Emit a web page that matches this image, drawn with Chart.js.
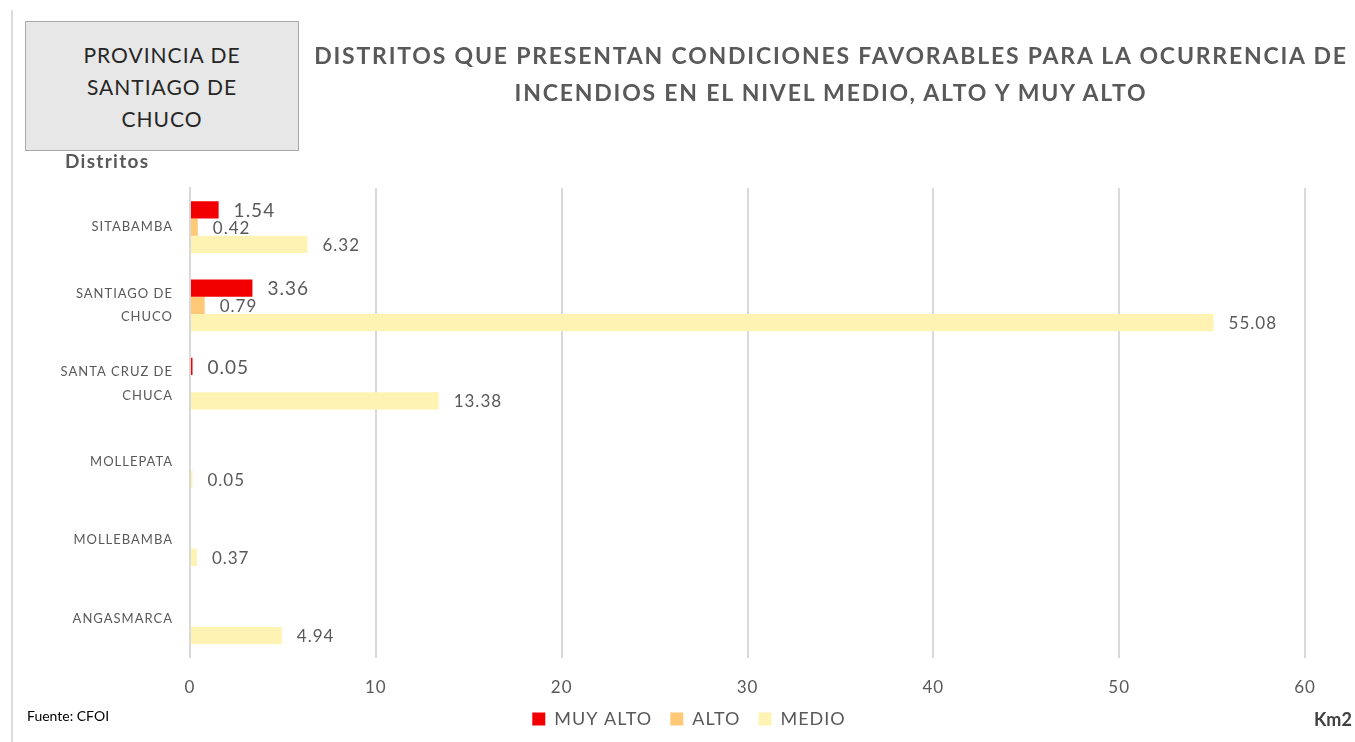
<!DOCTYPE html>
<html>
<head>
<meta charset="utf-8">
<script src="https://cdn.jsdelivr.net/npm/chart.js@4/dist/chart.umd.min.js"></script>
<style>
  html, body { margin: 0; padding: 0; background: #fff; }
  body { width: 1355px; height: 742px; position: relative; overflow: hidden; font-family: Lato, "Open Sans", sans-serif; }
  #wrap { position: absolute; left: 0; top: 0; width: 1355px; height: 742px; }
  .edge { position: absolute; left: 11px; top: 10px; width: 2px; height: 732px; background: #dcdcdc; }
  .box {
    position: absolute; left: 25px; top: 21px; width: 274px; height: 130px;
    background: #e7e7e7; border: 1px solid #a9a9a9; box-sizing: border-box;
    color: #262626; font-size: 21px; letter-spacing: 1px; line-height: 32px; text-align: center;
    padding-top: 17px;
  }
  .title {
    position: absolute; left: 303px; top: 37px; width: 1056px;
    color: #595959; font-weight: bold; font-size: 23px; letter-spacing: 1.8px; line-height: 37px; text-align: center;
  }
  .ylab { position: absolute; left: 65px; top: 149px; color: #595959; font-weight: bold; font-size: 19px; letter-spacing: 1.3px; }
  .src { position: absolute; left: 27px; top: 707px; color: #000; font-size: 14px; }
  .km { position: absolute; left: 1314px; top: 708px; color: #404040; font-weight: bold; font-size: 18px; }
</style>
</head>
<body>
<div class="edge"></div>
<div id="wrap"><canvas id="chart"></canvas></div>
<div class="box">PROVINCIA DE<br>SANTIAGO DE<br>CHUCO</div>
<div class="title">DISTRITOS QUE PRESENTAN CONDICIONES FAVORABLES PARA LA OCURRENCIA DE<br>INCENDIOS EN EL NIVEL MEDIO, ALTO Y MUY ALTO</div>
<div class="ylab">Distritos</div>
<div class="src">Fuente: CFOI</div>
<div class="km">Km2</div>
<script>
// datos (km2) por distrito
const distritos = [["SITABAMBA"], ["SANTIAGO DE", "CHUCO"], ["SANTA CRUZ DE", "CHUCA"], ["MOLLEPATA"], ["MOLLEBAMBA"], ["ANGASMARCA"]];
const muyAlto = [1.54, 3.36, 0.05, null, null, null];
const alto    = [0.42, 0.79, null, null, null, null];
const medio   = [6.32, 55.08, 13.38, 0.05, 0.37, 4.94];
const xTicks  = [0, 10, 20, 30, 40, 50, 60];

// espaciado de letras para ejes y leyenda (texto tipo Calibri mas ancho)
const spacing = {
  id: "spacing",
  // el eje x se acorto en afterFit; se amplia su caja para que no recorte los numeros
  afterLayout(chart){ chart.scales.x.bottom += 26; },
  beforeDraw(chart){ chart.ctx.letterSpacing = "1px"; },
  beforeDatasetsDraw(chart){ chart.ctx.letterSpacing = "0px"; }
};

// etiquetas de valor al final de cada barra
const valueLabels = {
  id: "valueLabels",
  afterDatasetsDraw(chart){
    const ctx = chart.ctx;
    ctx.save();
    ctx.letterSpacing = "1px";
    ctx.textBaseline = "middle";
    ctx.textAlign = "left";
    ctx.fillStyle = "#595959";
    chart.data.datasets.forEach((ds, i)=>{
      const meta = chart.getDatasetMeta(i);
      ctx.font = (i === 0 ? "19px" : "17px") + " Lato, 'Open Sans', sans-serif";
      meta.data.forEach((bar, j)=>{
        const v = ds.data[j];
        if(v == null) return;
        ctx.fillText(v.toFixed(2), bar.x + 15, bar.y + 1);
      });
    });
    ctx.restore();
  }
};

new Chart(document.getElementById("chart"), {
  type: "bar",
  data: {
    labels: distritos,
    datasets: [
      { label: "MUY ALTO", data: muyAlto, backgroundColor: "#f20000" },
      { label: "ALTO",     data: alto,    backgroundColor: "#ffc977" },
      { label: "MEDIO",    data: medio,   backgroundColor: "#fff3b3" }
    ]
  },
  plugins: [spacing, valueLabels],
  options: {
    indexAxis: "y",
    responsive: true,
    maintainAspectRatio: false,
    animation: false,
    layout: { padding: { left: 56, right: 50, top: 188, bottom: 4 } },
    datasets: { bar: { categoryPercentage: 0.66, barPercentage: 1.0, minBarLength: 2.5 } },
    scales: {
      x: {
        min: 0, max: 60,
        afterBuildTicks: (s)=>{ s.ticks = xTicks.map(v=>({value:v})); },
        afterFit: (s)=>{ s.height -= 26; },
        grid: { color: "#d9d9d9", lineWidth: 2, drawTicks: false },
        border: { display: false },
        ticks: { color: "#595959", font: { size: 17, family: "Lato" }, padding: 20 }
      },
      y: {
        afterFit: (s)=>{ s.width = 134; },
        grid: { display: false },
        border: { display: true, color: "#d9d9d9", width: 2 },
        ticks: { color: "#595959", font: { size: 13, family: "Lato", lineHeight: 1.8 }, padding: 9 }
      }
    },
    plugins: {
      legend: {
        position: "bottom",
        labels: { color: "#595959", font: { size: 18, family: "Lato" }, boxWidth: 13, boxHeight: 13, padding: 18 }
      },
      tooltip: { enabled: false }
    }
  }
});
</script>
</body>
</html>
